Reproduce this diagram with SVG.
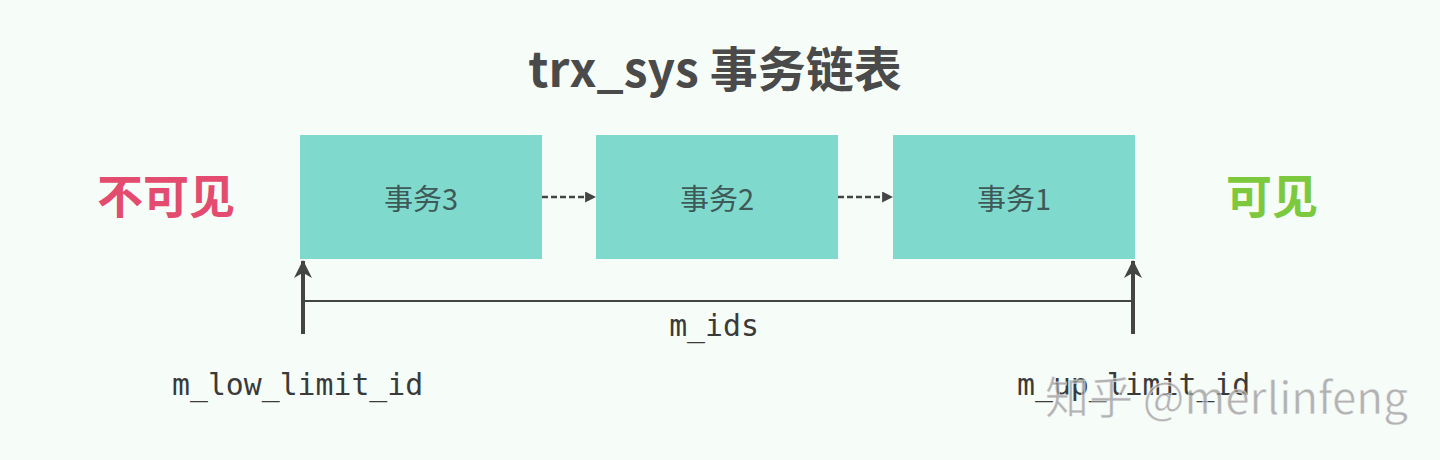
<svg xmlns="http://www.w3.org/2000/svg" width="1440" height="460" viewBox="0 0 1440 460">
<defs>
<style>
.box{fill:#80d9cd}
.lbl{font-family:"Noto Sans CJK SC","Noto Sans",sans-serif;font-size:29px;fill:#3e5a58;text-anchor:middle;dominant-baseline:central}
.mono{font-family:"DejaVu Sans Mono","Liberation Mono",monospace;font-size:29.8px;fill:#3a3a3a}
.dash{stroke:#444;stroke-width:2.5;stroke-dasharray:6 3;fill:none}
.solid{stroke:#444;fill:none}
</style>
<marker id="ah" viewBox="0 0 10 10" refX="9" refY="5" markerWidth="11" markerHeight="11" markerUnits="userSpaceOnUse" orient="auto">
<path d="M0,0 L10,5 L0,10 z" fill="#444"/>
</marker>
<marker id="big" viewBox="0 0 20 20" refX="19" refY="10" markerWidth="26" markerHeight="18" markerUnits="userSpaceOnUse" orient="auto">
<path d="M0,0 L20,10 L0,20 L6,10 z" fill="#444"/>
</marker>
</defs>
<rect width="1440" height="460" fill="#f6fcf8"/>
<g id="title">
<text x="715" y="66" font-family="'Noto Sans CJK SC',sans-serif" font-size="48" font-weight="bold" fill="#4a4a4a" text-anchor="middle" dominant-baseline="central">trx_sys 事务链表</text>
</g>
<g id="invisible">
<text x="166" y="193" font-family="'Noto Sans CJK SC',sans-serif" font-size="46" font-weight="bold" fill="#e34c6e" text-anchor="middle" dominant-baseline="central">不可见</text>
</g>
<g id="visible">
<text x="1272" y="193" font-family="'Noto Sans CJK SC',sans-serif" font-size="46" font-weight="bold" fill="#7dc93e" text-anchor="middle" dominant-baseline="central">可见</text>
</g>
<g id="trx3">
<rect class="box" x="300" y="135" width="242" height="124"/>
<text class="lbl" x="421" y="197">事务3</text>
</g>
<g id="trx2">
<rect class="box" x="596" y="135" width="242" height="124"/>
<text class="lbl" x="717" y="197">事务2</text>
</g>
<g id="trx1">
<rect class="box" x="893" y="135" width="242" height="124"/>
<text class="lbl" x="1014" y="197">事务1</text>
</g>
<g id="connectors">
<line class="dash" x1="542" y1="197" x2="595" y2="197" marker-end="url(#ah)"/>
<line class="dash" x1="838" y1="197" x2="892" y2="197" marker-end="url(#ah)"/>
<line class="solid" stroke-width="4" x1="303" y1="334" x2="303" y2="261" marker-end="url(#big)"/>
<line class="solid" stroke-width="4" x1="1133" y1="334" x2="1133" y2="261" marker-end="url(#big)"/>
<line class="solid" stroke-width="2" x1="303" y1="301" x2="1133" y2="301"/>
</g>
<g id="labels">
<text class="mono" x="714" y="336" text-anchor="middle">m_ids</text>
<text class="mono" x="172" y="395">m_low_limit_id</text>
<text class="mono" x="1017" y="395">m_up_limit_id</text>
</g>
<g id="watermark">
<text x="1045" y="414" font-family="'Noto Sans CJK SC','Noto Sans',sans-serif" font-size="44" fill="#9a9a9a" fill-opacity="0.75" stroke="#ffffff" stroke-width="1" stroke-opacity="0.6">知乎 @merlinfeng</text>
</g>
</svg>
